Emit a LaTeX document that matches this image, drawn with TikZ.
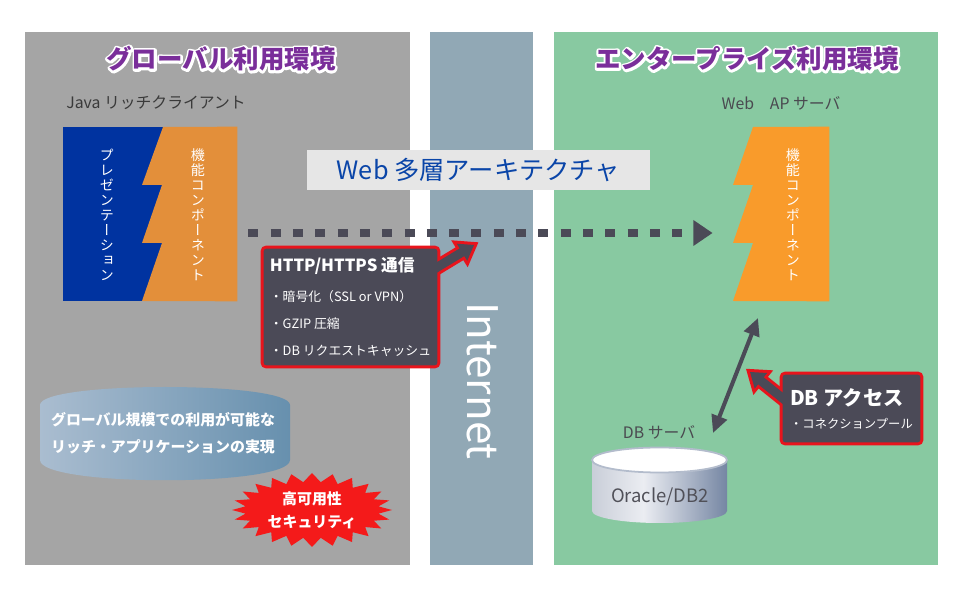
\documentclass[tikz,border=0pt]{standalone}
\usepackage{fontspec}
\setmainfont{Noto Sans CJK JP}
\newfontfamily\vertjp[RawFeature=+vert]{Noto Sans CJK JP}
\usetikzlibrary{positioning,arrows.meta}

\newcommand{\strokehalo}[1]{\special{pdf:literal direct 1 Tr 2.6 w 1 j}#1\special{pdf:literal direct 0 Tr}}

\definecolor{panelgray}{HTML}{A5A5A5}
\definecolor{netblue}{HTML}{91A8B5}
\definecolor{entgreen}{HTML}{88C9A1}
\definecolor{calldark}{HTML}{4B4A57}
\definecolor{callred}{HTML}{E8141C}
\definecolor{presblue}{HTML}{0033A0}
\definecolor{compleft}{HTML}{E38F3A}
\definecolor{compright}{HTML}{F99B2B}
\definecolor{titlepurple}{HTML}{7A2E9A}
\definecolor{archblue}{HTML}{0A45A8}
\definecolor{bannergray}{HTML}{E6E6E6}
\definecolor{labelgray}{HTML}{4A4A50}
\definecolor{clientgray}{HTML}{3A3A3A}
\definecolor{burstred}{HTML}{F41A1A}
\definecolor{pillleft}{HTML}{AABDD0}
\definecolor{pillright}{HTML}{6790AE}
\definecolor{dbleft}{HTML}{C9CED8}
\definecolor{dblight}{HTML}{EBEDF2}
\definecolor{dbright}{HTML}{7586A3}
\definecolor{dbrim}{HTML}{B3BCCC}
\definecolor{dbtext}{HTML}{505058}

\pgfdeclarelayer{panels}
\pgfdeclarelayer{callouts}
\pgfsetlayers{panels,callouts,main}

\pgfdeclarehorizontalshading{dbside}{100bp}{color(0bp)=(dbleft); color(25bp)=(dbleft); color(44bp)=(dblight); color(75bp)=(dbright); color(100bp)=(dbright)}

\begin{document}
\begin{tikzpicture}[x=0.02cm, y=-0.02cm,
    envtitle/.style={text=titlepurple, font=\fontsize{14.5}{16}\selectfont\bfseries},
    envhalo/.style={envtitle, text=white},
    tierlabel/.style={text=labelgray, font=\fontsize{9}{11}\selectfont},
    vlabel/.style={text=white, align=center, inner sep=0pt, font=\vertjp\fontsize{8}{8.55}\selectfont},
    tierblock/.style={inner sep=0pt, minimum height=3.48cm},
    callbox/.style={text=white, align=left, inner sep=0pt},
    calledge/.style={draw=callred, line width=3.4pt, line join=miter},
    callfill/.style={fill=calldark},
    dataflow/.style={draw=calldark, line width=4.5pt, dash pattern=on 5.7pt off 7pt, -{Triangle[length=11pt, width=14pt]}},
    dbflow/.style={draw=calldark, line width=2.3pt, {Triangle[length=10pt, width=9pt]}-{Triangle[length=10pt, width=9pt]}}]

  \useasboundingbox (0,0) rectangle (960,590);

  % three zones
  \begin{pgfonlayer}{panels}
    \fill[white] (0,0) rectangle (960,590);
    \fill[panelgray] (25,32) rectangle (410,565);
    \fill[netblue] (430,32) rectangle (533,565);
    \fill[entgreen] (554,32) rectangle (938,565);
  \end{pgfonlayer}

  \node[envhalo] (globalhalo) at (221,59) {\strokehalo{グローバル利用環境}};
  \node[envtitle] (globaltitle) at (221,59) {グローバル利用環境};
  \node[envhalo] (enthalo) at (747,59) {\strokehalo{エンタープライズ利用環境}};
  \node[envtitle] (enttitle) at (747,59) {エンタープライズ利用環境};

  \node[tierlabel, text=clientgray] (clientlabel) at (156,103) {Java リッチクライアント};
  \node[tierlabel] (aplabel) at (781,103) {Web　AP サーバ};

  % client and AP server blocks
  \node[tierblock, minimum width=3.48cm] (client) at (150,214) {};
  \node[tierblock, minimum width=1.92cm] (apserver) at (781,214) {};

  \fill[presblue] (client.north west) rectangle (client.south east);
  \fill[compleft] (163,127) -- (client.north east) -- (client.south east) -- (142,301)
    -- (162,243) -- (142,243) -- (162,185) -- (142,185) -- cycle;
  \fill[compright] (753,127) -- (apserver.north east) -- (apserver.south east) -- (733,301)
    -- (753,243) -- (733,243) -- (753,185) -- (733,185) -- cycle;

  \node[vlabel] (pres) at (107,215) {プ\\レ\\ゼ\\ン\\テ\\ー\\シ\\ョ\\ン};
  \node[vlabel] (clientcomp) at (198,215) {機\\能\\コ\\ン\\ポ\\ー\\ネ\\ン\\ト};
  \node[vlabel] (apcomp) at (793,215) {機\\能\\コ\\ン\\ポ\\ー\\ネ\\ン\\ト};

  \node[fill=bannergray, text=archblue, font=\fontsize{14.4}{16}\selectfont,
    minimum width=6.86cm, minimum height=0.8cm] (arch) at (478.5,170) {Web 多層アーキテクチャ};

  \draw[dataflow] ([xshift=0.22cm, yshift=-0.38cm]client.east) -- ([xshift=-0.4cm, yshift=-0.38cm]apserver.west);

  \node[rotate=-90, text=white, font=\fontsize{24}{28}\selectfont] (internet) at (483,381) {Internet};

  % callouts
  \node[callbox, minimum width=3.46cm, minimum height=2.32cm,
    font=\fontsize{7.3}{15.4}\selectfont] (http) at (350.5,307)
    {{\bfseries\fontsize{9.5}{11}\selectfont HTTP/HTTPS 通信}\\[2pt]
     ・暗号化（SSL or VPN）\\
     ・GZIP 圧縮\\
     ・DB リクエストキャッシュ};

  \node[callbox, minimum width=2.74cm, minimum height=1.34cm] (dbaccess) at (851.5,408.5)
    {{\bfseries\fontsize{11.5}{13}\selectfont DB アクセス}\\[1pt]
     {\fontsize{7}{9}\selectfont ・コネクションプール}};

  \begin{pgfonlayer}{callouts}
    \path[calledge, rounded corners=1.5pt] (http.north west) rectangle (http.south east);
    \path[calledge] (429.7,266.5) -- (459.7,248.4) -- (456.8,243.7) -- (474,245)
      -- (467.2,260.8) -- (464.3,256.1) -- (434.3,274.3) -- cycle;
    \path[calledge, rounded corners=1.5pt] (dbaccess.north west) rectangle (dbaccess.south east);
    \path[calledge] (791,399.2) -- (763.7,377.3) -- (767.2,373) -- (750,372)
      -- (754.7,388.6) -- (758.1,384.3) -- (785.4,406.2) -- cycle;
    \path[callfill, rounded corners=1.5pt] (http.north west) rectangle (http.south east);
    \path[callfill] (429.7,266.5) -- (459.7,248.4) -- (456.8,243.7) -- (474,245)
      -- (467.2,260.8) -- (464.3,256.1) -- (434.3,274.3) -- cycle;
    \path[callfill, rounded corners=1.5pt] (dbaccess.north west) rectangle (dbaccess.south east);
    \path[callfill] (791,399.2) -- (763.7,377.3) -- (767.2,373) -- (750,372)
      -- (754.7,388.6) -- (758.1,384.3) -- (785.4,406.2) -- cycle;
  \end{pgfonlayer}

  % database
  \coordinate (apend) at (758,318);
  \coordinate (dbend) at (713,433);
  \draw[dbflow] (dbend) -- (apend);

  \node[tierlabel] (dblabel) at (659,432) {DB サーバ};
  \shade[shading=dbside] (592,460) -- (592,511) arc[start angle=180, end angle=0, x radius=67.5, y radius=12] -- (727,460) -- cycle;
  \filldraw[fill=white, draw=dbrim, line width=1pt] (659.5,460) ellipse [x radius=67.5, y radius=12.5];
  \node[text=dbtext, font=\fontsize{10.5}{12}\selectfont] (oracle) at (660,497) {Oracle/DB2};

  % goal and burst
  \shade[left color=pillleft, right color=pillright] (40,405) .. controls (40,381) and (290,381) .. (290,405)
    -- (290,460) .. controls (290,487) and (40,487) .. (40,460) -- cycle;
  \node[text=white, align=center, font=\bfseries\fontsize{8.5}{15.4}\selectfont] (goal) at (163,433)
    {グローバル規模での利用が可能な\\リッチ・アプリケーションの実現};

  \fill[burstred, shift={(312,510)}] (0:80 and 37)
    \foreach \k [evaluate=\k as \rx using {mod(\k,2)==0 ? 80 : 67},
                 evaluate=\k as \ry using {mod(\k,2)==0 ? 37 : 28}] in {1,...,47} { -- ({\k*7.5}:{\rx} and {\ry}) } -- cycle;
  \node[text=white, align=center, font=\bfseries\fontsize{8.5}{13}\selectfont] (availability) at (312,510)
    {高可用性\\セキュリティ};
\end{tikzpicture}
\end{document}
